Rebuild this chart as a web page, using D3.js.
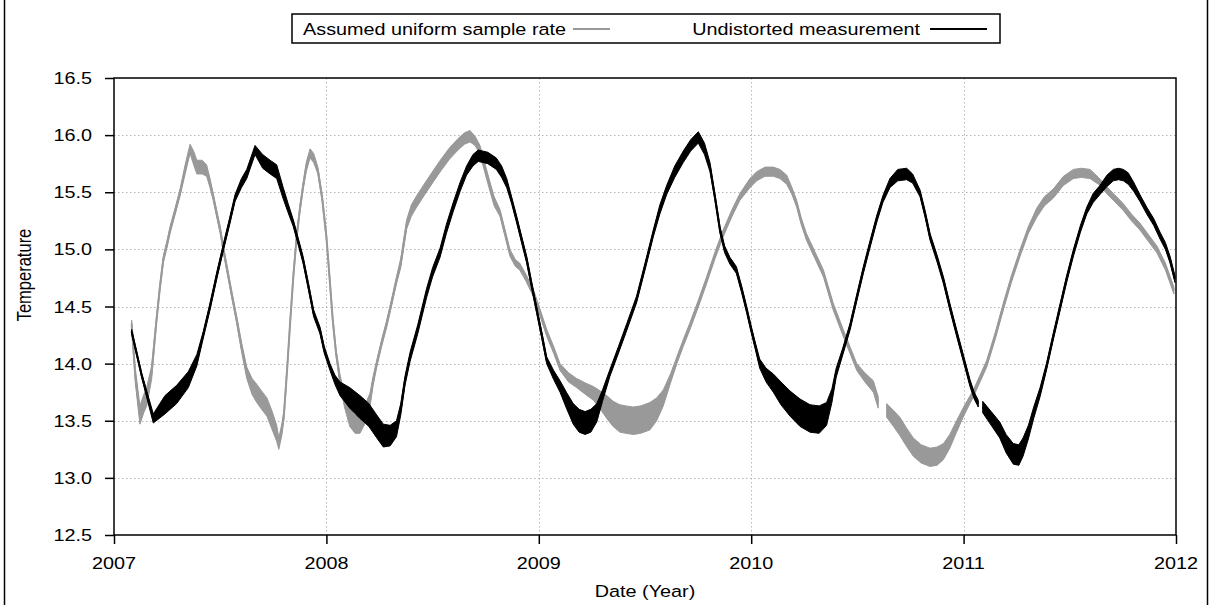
<!DOCTYPE html>
<html>
<head>
<meta charset="utf-8">
<script src="https://cdn.jsdelivr.net/npm/d3@7"></script>
<style>
  html, body { margin: 0; padding: 0; background: #fff; }
  svg { display: block; font-family: "Liberation Sans", Arial, Helvetica, sans-serif; }
</style>
</head>
<body>
<svg id="chart" width="1211" height="605"></svg>
<script>
// ---- data ----
const seriesNames = ["Assumed uniform sample rate", "Undistorted measurement"];
const xTickYears = [2007, 2008, 2009, 2010, 2011, 2012];
const yTickValues = [12.5, 13.0, 13.5, 14.0, 14.5, 15.0, 15.5, 16.0, 16.5];

// rows: [decimal year, temperature, noise half-width]; null temperature = gap
const assumedUniform = [
  [2007.083,14.35,0.03],[2007.10,13.9,0.06],[2007.122,13.55,0.08],[2007.14,13.65,0.08],[2007.154,13.71,0.08],
  [2007.177,13.92,0.06],[2007.20,14.38,0.03],[2007.215,14.65,0.03],[2007.232,14.91,0.03],[2007.25,15.05,0.03],
  [2007.264,15.17,0.03],[2007.29,15.35,0.03],[2007.31,15.49,0.03],[2007.335,15.70,0.04],[2007.358,15.88,0.04],
  [2007.375,15.80,0.06],[2007.39,15.72,0.06],[2007.415,15.72,0.06],[2007.436,15.69,0.05],[2007.452,15.58,0.04],
  [2007.467,15.46,0.03],[2007.485,15.30,0.03],[2007.50,15.17,0.03],[2007.515,15.00,0.03],[2007.53,14.85,0.03],
  [2007.555,14.60,0.03],[2007.578,14.38,0.03],[2007.60,14.15,0.04],[2007.625,13.92,0.05],[2007.65,13.80,0.07],
  [2007.672,13.74,0.08],[2007.695,13.68,0.08],[2007.72,13.62,0.08],[2007.745,13.50,0.08],[2007.766,13.39,0.07],
  [2007.776,13.30,0.05],[2007.79,13.42,0.05],[2007.80,13.55,0.04],[2007.815,13.95,0.03],[2007.83,14.38,0.03],
  [2007.845,14.78,0.03],[2007.86,15.11,0.03],[2007.875,15.35,0.03],[2007.89,15.55,0.03],[2007.905,15.72,0.04],
  [2007.923,15.84,0.04],[2007.94,15.80,0.04],[2007.96,15.69,0.03],[2007.98,15.45,0.03],[2008.00,15.11,0.03],
  [2008.015,14.75,0.03],[2008.03,14.38,0.03],[2008.045,14.10,0.03],[2008.064,13.86,0.04],[2008.085,13.68,0.06],
  [2008.11,13.53,0.08],[2008.135,13.47,0.08],[2008.158,13.47,0.08],[2008.18,13.55,0.08],[2008.205,13.68,0.06],
  [2008.22,13.85,0.04],[2008.237,14.00,0.03],[2008.26,14.18,0.03],[2008.284,14.35,0.03],[2008.305,14.52,0.03],
  [2008.33,14.73,0.03],[2008.35,14.88,0.04],[2008.378,15.22,0.04],[2008.40,15.34,0.05],[2008.425,15.42,0.05],
  [2008.46,15.52,0.05],[2008.503,15.64,0.05],[2008.54,15.74,0.05],[2008.58,15.84,0.05],[2008.62,15.92,0.05],
  [2008.65,15.97,0.05],[2008.676,15.99,0.05],[2008.70,15.95,0.04],[2008.723,15.87,0.04],[2008.745,15.72,0.04],
  [2008.77,15.55,0.04],[2008.79,15.42,0.04],[2008.817,15.32,0.03],[2008.84,15.15,0.03],[2008.864,14.97,0.03],
  [2008.89,14.88,0.03],[2008.91,14.85,0.03],[2008.94,14.75,0.03],[2008.974,14.62,0.03],[2009.00,14.48,0.03],
  [2009.037,14.27,0.03],[2009.07,14.12,0.03],[2009.10,13.97,0.03],[2009.14,13.88,0.04],[2009.178,13.83,0.04],
  [2009.22,13.78,0.05],[2009.257,13.74,0.06],[2009.29,13.68,0.08],[2009.32,13.62,0.10],[2009.35,13.56,0.11],
  [2009.382,13.52,0.12],[2009.41,13.51,0.12],[2009.445,13.50,0.12],[2009.48,13.51,0.12],[2009.523,13.54,0.12],
  [2009.555,13.60,0.10],[2009.586,13.70,0.07],[2009.62,13.87,0.04],[2009.65,14.03,0.03],[2009.68,14.18,0.03],
  [2009.71,14.32,0.03],[2009.75,14.52,0.03],[2009.79,14.73,0.03],[2009.83,14.95,0.03],[2009.868,15.14,0.03],
  [2009.91,15.32,0.03],[2009.947,15.46,0.03],[2009.994,15.58,0.04],[2010.026,15.64,0.04],[2010.065,15.68,0.04],
  [2010.104,15.68,0.04],[2010.135,15.66,0.04],[2010.167,15.61,0.04],[2010.19,15.52,0.03],[2010.214,15.40,0.03],
  [2010.235,15.25,0.03],[2010.26,15.11,0.03],[2010.30,14.95,0.03],[2010.34,14.79,0.03],[2010.386,14.50,0.03],
  [2010.433,14.27,0.03],[2010.465,14.12,0.03],[2010.497,13.97,0.03],[2010.535,13.88,0.04],[2010.575,13.80,0.05],
  [2010.598,13.66,0.05],[2010.62,null,0],[2010.638,13.59,0.06],[2010.67,13.52,0.07],[2010.70,13.45,0.08],
  [2010.73,13.36,0.08],[2010.763,13.27,0.08],[2010.80,13.21,0.08],[2010.842,13.18,0.08],[2010.875,13.19,0.08],
  [2010.905,13.23,0.07],[2010.935,13.32,0.06],[2010.967,13.45,0.05],[2011.00,13.58,0.04],[2011.046,13.74,0.03],
  [2011.08,13.88,0.03],[2011.109,14.00,0.03],[2011.15,14.25,0.03],[2011.187,14.50,0.03],[2011.225,14.74,0.03],
  [2011.266,14.97,0.03],[2011.305,15.17,0.03],[2011.344,15.32,0.04],[2011.38,15.42,0.04],[2011.423,15.49,0.04],
  [2011.47,15.60,0.04],[2011.517,15.66,0.04],[2011.555,15.67,0.04],[2011.595,15.66,0.04],[2011.635,15.60,0.03],
  [2011.673,15.52,0.03],[2011.71,15.45,0.03],[2011.752,15.37,0.03],[2011.79,15.28,0.03],[2011.83,15.20,0.03],
  [2011.87,15.10,0.03],[2011.91,15.00,0.03],[2011.95,14.85,0.03],[2011.99,14.64,0.03]
];

const undistorted = [
  [2007.083,14.28,0.02],[2007.13,13.90,0.02],[2007.185,13.52,0.04],[2007.24,13.64,0.08],[2007.295,13.73,0.08],
  [2007.35,13.86,0.07],[2007.39,14.03,0.05],[2007.42,14.25,0.03],[2007.452,14.50,0.03],[2007.485,14.78,0.03],
  [2007.515,15.02,0.03],[2007.545,15.25,0.03],[2007.57,15.45,0.03],[2007.60,15.58,0.04],[2007.625,15.66,0.04],
  [2007.664,15.87,0.04],[2007.70,15.77,0.06],[2007.735,15.72,0.06],[2007.766,15.68,0.06],[2007.797,15.49,0.05],
  [2007.82,15.36,0.04],[2007.844,15.23,0.03],[2007.87,15.05,0.03],[2007.89,14.91,0.03],[2007.915,14.68,0.03],
  [2007.94,14.44,0.03],[2007.97,14.29,0.03],[2007.99,14.12,0.03],[2008.017,13.97,0.03],[2008.04,13.86,0.04],
  [2008.064,13.78,0.06],[2008.11,13.70,0.09],[2008.158,13.62,0.10],[2008.20,13.55,0.10],[2008.237,13.45,0.10],
  [2008.268,13.37,0.10],[2008.30,13.37,0.09],[2008.33,13.43,0.07],[2008.35,13.60,0.05],[2008.37,13.85,0.04],
  [2008.394,14.06,0.04],[2008.43,14.30,0.04],[2008.472,14.62,0.04],[2008.50,14.80,0.04],[2008.535,14.97,0.04],
  [2008.565,15.18,0.04],[2008.597,15.37,0.04],[2008.63,15.55,0.04],[2008.66,15.69,0.04],[2008.69,15.78,0.05],
  [2008.715,15.82,0.05],[2008.76,15.80,0.05],[2008.80,15.75,0.05],[2008.825,15.68,0.05],[2008.849,15.58,0.04],
  [2008.872,15.43,0.03],[2008.896,15.26,0.03],[2008.92,15.08,0.03],[2008.943,14.91,0.03],[2008.965,14.70,0.03],
  [2008.99,14.47,0.03],[2009.015,14.24,0.03],[2009.037,14.03,0.03],[2009.07,13.90,0.04],[2009.10,13.80,0.05],
  [2009.13,13.68,0.07],[2009.162,13.56,0.09],[2009.19,13.50,0.10],[2009.218,13.48,0.10],[2009.245,13.50,0.10],
  [2009.273,13.57,0.08],[2009.30,13.72,0.05],[2009.335,13.92,0.03],[2009.375,14.12,0.03],[2009.414,14.32,0.03],
  [2009.46,14.56,0.03],[2009.50,14.85,0.03],[2009.539,15.14,0.03],[2009.57,15.35,0.04],[2009.602,15.52,0.04],
  [2009.64,15.68,0.05],[2009.68,15.81,0.05],[2009.715,15.91,0.05],[2009.751,15.98,0.05],[2009.78,15.88,0.05],
  [2009.806,15.72,0.04],[2009.83,15.45,0.03],[2009.853,15.17,0.03],[2009.875,15.00,0.03],[2009.90,14.90,0.03],
  [2009.93,14.82,0.03],[2009.955,14.65,0.03],[2009.979,14.47,0.03],[2010.00,14.30,0.03],[2010.02,14.15,0.03],
  [2010.04,14.00,0.04],[2010.07,13.90,0.06],[2010.104,13.83,0.08],[2010.14,13.74,0.10],[2010.183,13.65,0.11],
  [2010.23,13.57,0.12],[2010.277,13.52,0.12],[2010.32,13.51,0.12],[2010.355,13.56,0.10],[2010.38,13.72,0.06],
  [2010.40,13.92,0.04],[2010.43,14.10,0.03],[2010.465,14.32,0.03],[2010.50,14.60,0.03],[2010.528,14.82,0.03],
  [2010.56,15.05,0.03],[2010.59,15.26,0.03],[2010.62,15.44,0.03],[2010.653,15.58,0.04],[2010.69,15.65,0.05],
  [2010.732,15.66,0.05],[2010.76,15.62,0.04],[2010.795,15.49,0.03],[2010.82,15.30,0.03],[2010.842,15.11,0.03],
  [2010.875,14.92,0.03],[2010.905,14.73,0.03],[2010.935,14.50,0.03],[2010.967,14.27,0.03],[2011.00,14.04,0.03],
  [2011.03,13.83,0.03],[2011.05,13.72,0.03],[2011.069,13.65,0.03],[2011.08,null,0],[2011.09,13.62,0.05],
  [2011.13,13.52,0.06],[2011.17,13.42,0.07],[2011.20,13.30,0.08],[2011.234,13.21,0.09],[2011.26,13.20,0.09],
  [2011.28,13.27,0.08],[2011.305,13.40,0.06],[2011.33,13.57,0.05],[2011.36,13.75,0.04],[2011.39,13.97,0.03],
  [2011.42,14.22,0.03],[2011.455,14.50,0.03],[2011.485,14.74,0.03],[2011.517,14.97,0.03],[2011.55,15.18,0.03],
  [2011.58,15.34,0.03],[2011.61,15.45,0.04],[2011.642,15.52,0.04],[2011.675,15.60,0.05],[2011.705,15.65,0.05],
  [2011.73,15.66,0.05],[2011.752,15.65,0.05],[2011.775,15.62,0.05],[2011.80,15.55,0.04],[2011.83,15.45,0.03],
  [2011.862,15.34,0.03],[2011.895,15.24,0.03],[2011.925,15.12,0.03],[2011.95,15.03,0.03],[2011.972,14.91,0.03],
  [2011.995,14.74,0.03]
];

// ---- layout ----
const svg = d3.select("#chart");
const W = 1211, H = 605;
const plot = { left: 114, right: 1176, top: 78, bottom: 535 };
const FONT = 16.5;     // glyph height
const STRETCH = 1.2;   // the reference text is horizontally stretched
const GRAY = "#999999";

const x = d3.scaleLinear().domain([2007, 2012]).range([plot.left, plot.right]);
const y = d3.scaleLinear().domain([12.5, 16.5]).range([plot.bottom, plot.top]);

function label(px, py, txt, anchor) {
  return svg.append("text")
    .attr("transform", `translate(${px},${py}) scale(${STRETCH},1)`)
    .attr("text-anchor", anchor).attr("fill", "#000")
    .style("font-size", FONT + "px").text(txt);
}

// outer image border
svg.append("rect").attr("x", 4.5).attr("y", -2).attr("width", W - 8).attr("height", H + 4)
  .attr("fill", "none").attr("stroke", "#000").attr("stroke-width", 1.5);

// grid
const grid = svg.append("g").attr("stroke", "#b5b5b5").attr("stroke-width", 1).attr("stroke-dasharray", "1.5,2.5");
grid.selectAll("line.h").data(yTickValues.slice(1, -1)).join("line")
  .attr("x1", plot.left).attr("x2", plot.right)
  .attr("y1", d => Math.round(y(d)) + 0.5).attr("y2", d => Math.round(y(d)) + 0.5);
grid.selectAll("line.v").data(xTickYears.slice(1, -1)).join("line")
  .attr("y1", plot.top).attr("y2", plot.bottom)
  .attr("x1", d => Math.round(x(d)) + 0.5).attr("x2", d => Math.round(x(d)) + 0.5);

// series
svg.append("clipPath").attr("id", "clip").append("rect")
  .attr("x", plot.left).attr("y", plot.top).attr("width", plot.right - plot.left).attr("height", plot.bottom - plot.top);

function drawSeries(rows, color) {
  const g = svg.append("g").attr("clip-path", "url(#clip)");
  const defined = d => d[1] !== null;
  const area = d3.area().defined(defined)
    .x(d => x(d[0])).y0(d => y(d[1] - d[2])).y1(d => y(d[1] + d[2]));
  const line = d3.line().defined(defined).x(d => x(d[0])).y(d => y(d[1]));
  g.append("path").datum(rows).attr("d", area).attr("fill", color).attr("stroke", color).attr("stroke-width", 1);
  g.append("path").datum(rows).attr("d", line).attr("fill", "none").attr("stroke", color)
    .attr("stroke-width", 2).attr("stroke-linejoin", "round");
}
drawSeries(assumedUniform, GRAY);
drawSeries(undistorted, "#000");

// axes (tick marks from d3 axes, labels drawn stretched)
const yAxis = d3.axisLeft(y).tickValues(yTickValues).tickFormat("").tickSize(9);
const xAxis = d3.axisBottom(x).tickValues(xTickYears).tickFormat("").tickSize(9);
const gy = svg.append("g").attr("transform", `translate(${plot.left},0)`).call(yAxis);
const gx = svg.append("g").attr("transform", `translate(0,${plot.bottom})`).call(xAxis);
[gx, gy].forEach(g => {
  g.select(".domain").remove();
  g.selectAll(".tick line").attr("stroke", "#000").attr("stroke-width", 1.5);
});
const fmtY = d3.format(".1f");
yTickValues.forEach(v => label(plot.left - 22, y(v) + 6, fmtY(v), "end"));
xTickYears.forEach(v => label(x(v), 569, String(v), "middle"));

// frame
svg.append("rect").attr("x", plot.left).attr("y", plot.top)
  .attr("width", plot.right - plot.left).attr("height", plot.bottom - plot.top)
  .attr("fill", "none").attr("stroke", "#000").attr("stroke-width", 1.5);

// axis titles
label((plot.left + plot.right) / 2, 597, "Date (Year)", "middle");
svg.append("text").attr("transform", `translate(31,275) rotate(-90) scale(1,${STRETCH})`)
  .attr("text-anchor", "middle").attr("fill", "#000").style("font-size", FONT + "px").text("Temperature");

// legend
const lg = svg.append("g");
lg.append("rect").attr("x", 292).attr("y", 14).attr("width", 708).attr("height", 29)
  .attr("fill", "#fff").attr("stroke", "#000").attr("stroke-width", 1.5);
const legendItems = [
  { name: seriesNames[0], color: GRAY, textEnd: 566, x1: 573, x2: 610 },
  { name: seriesNames[1], color: "#000", textEnd: 920, x1: 930, x2: 987 }
];
legendItems.forEach(it => {
  lg.append("text").attr("transform", `translate(${it.textEnd},35) scale(${STRETCH},1)`)
    .attr("text-anchor", "end").attr("fill", "#000")
    .style("font-size", FONT + "px").text(it.name);
  lg.append("line").attr("x1", it.x1).attr("x2", it.x2).attr("y1", 29).attr("y2", 29)
    .attr("stroke", it.color).attr("stroke-width", 2);
});
</script>
</body>
</html>
